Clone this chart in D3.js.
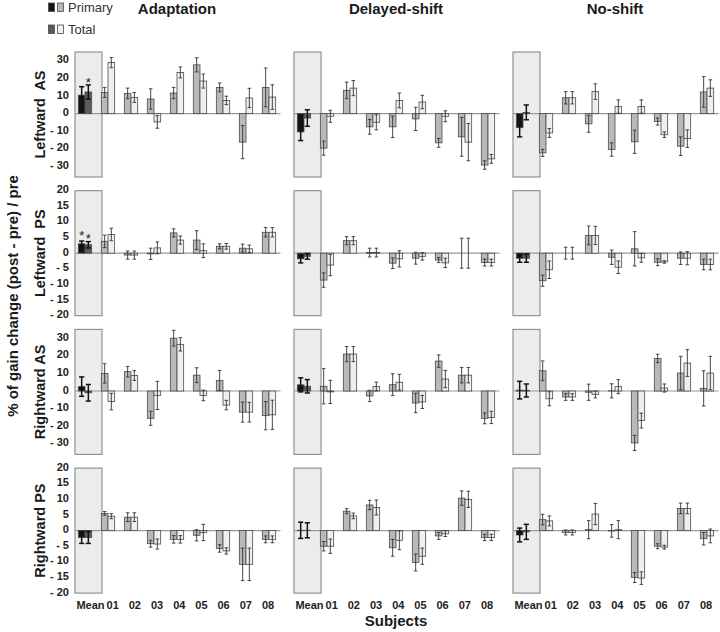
<!DOCTYPE html>
<html><head><meta charset="utf-8">
<script src="https://cdn.jsdelivr.net/npm/d3@7"></script>
<style>
html,body{margin:0;padding:0;background:#fff;}
svg{display:block;font-family:"Liberation Sans",Arial,Helvetica,sans-serif;}
</style></head><body>
<svg id="chart" width="720" height="632"></svg>
<script>
// ---------- DATA ----------
const categories = ["Mean","01","02","03","04","05","06","07","08"];
const conditions = ["Adaptation","Delayed-shift","No-shift"];
const rowLabels = ["Leftward  AS","Leftward  PS","Rightward AS","Rightward PS"];
const rowKinds = ["AS","PS","AS","PS"];
const asTicks = [30,20,10,0,-10,-20,-30];
const psTicks = [20,15,10,5,0,-5,-10,-15,-20];
const asDomain = [-36,35];
const psDomain = [-20,20];
const seriesNames = ["Primary","Total"];

// rows: Leftward AS, Leftward PS, Rightward AS, Rightward PS ; columns: Mean, 01..08
const adaptationPrimary = [
  [10.5, 12, 11.5, 8.3, 11.7, 27.7, 14.9, -16.2, 14.9],
  [3, 3.8, -0.6, -0.2, 6.5, 4.2, 2.2, 1.6, 6.7],
  [2.5, 10, 11, -15.5, 30, 9, 6, -12, -14],
  [-2.2, 5.5, 4.3, -4.2, -2.8, -1.5, -5.7, -10.8, -2.8]
];
const adaptationPrimaryErr = [
  [4.8, 2.8, 3, 5.8, 3.2, 4, 2.5, 9.4, 11],
  [0.9, 2, 1.3, 1.8, 1.3, 3, 0.8, 1.3, 1.5],
  [5.5, 5.5, 3, 4, 4.5, 4.2, 5.7, 5.7, 8],
  [1.9, 0.6, 1.4, 1.1, 1.2, 1.8, 1.2, 5.2, 1.1]
];
const adaptationTotal = [
  [12.3, 29, 9.2, -4.7, 23.4, 18.5, 7.5, 8.9, 9.4],
  [2.7, 6, -0.6, 1.7, 4.2, 0.8, 2.2, 1.4, 6.7],
  [-1, -6, 8.8, -2.5, 26.5, -2.5, -8, -12, -13.5],
  [-2.2, 4.6, 4.3, -4.3, -2.8, -0.6, -6.5, -10.8, -2.8]
];
const adaptationTotalErr = [
  [4, 2.9, 2.8, 3.6, 3.1, 4, 2.4, 5.5, 7],
  [1, 2, 1.3, 1.9, 1.3, 2.2, 0.9, 1.2, 1.5],
  [4.7, 4.7, 2.8, 8, 3.8, 3, 2.7, 5.6, 8.3],
  [1.9, 0.8, 1.4, 1.6, 1.2, 2.6, 1, 5.2, 1.1]
];

const delayedPrimary = [
  [-10.4, -19.6, 13.2, -7.5, -7.5, -3, -16.6, -13.2, -29.2],
  [-1.8, -8.6, 4, 0.2, -3.2, -1.6, -2.2, 0, -3],
  [3.5, 2.7, 21, -2.8, 3.6, -6.8, 17, 9, -15.5],
  [0.1, -5, 6.2, 8.2, -5.5, -10.2, -1.7, 10.4, -2.2]
];
const delayedPrimaryErr = [
  [4.9, 4, 4.7, 4.2, 6.1, 6.6, 2.5, 11, 2.4],
  [1.3, 2.3, 1.3, 1.4, 1.7, 1.9, 0.8, 4.8, 1.1],
  [4, 10, 4.3, 3.2, 6.2, 5.5, 3.5, 4.4, 3.1],
  [2.6, 1.5, 0.8, 1.5, 2.7, 2.7, 1.1, 2.3, 1]
];
const delayedTotal = [
  [-2.5, -1.5, 14.5, -4.9, 7.5, 6.6, -1.5, -16.2, -25.7],
  [-1, -3.8, 4, 0.2, -1.8, -1, -3.1, 0, -3],
  [2.7, -0.5, 21, 2.6, 5, -6.2, 6.8, 9, -15],
  [0.1, -5, 4.7, 7.4, -3.1, -8.2, -1, 10, -2.2]
];
const delayedTotalErr = [
  [4.7, 3.4, 4.3, 4.3, 4.2, 3.8, 3.1, 10.6, 2.5],
  [0.9, 3.4, 1.3, 1.4, 2.6, 1.2, 1.5, 4.8, 1.1],
  [3.8, 6.6, 4.3, 2.4, 4.5, 3.7, 4.9, 4.4, 3.5],
  [2.4, 2.3, 0.9, 2.4, 3, 2.6, 0.9, 2.6, 1]
];

const noShiftPrimary = [
  [-8, -22.3, 9, -5.8, -20.4, -16, -4.5, -18.5, 12.3],
  [-1.6, -8.8, 0, 5.7, -1.3, 1.4, -2.9, -1.6, -3.6],
  [0.5, 11.5, -3.4, -0.7, 0.1, -29.5, 18.5, 10.2, 1.5],
  [-1.4, 3.5, -0.6, 0.3, -0.1, -15, -5, 7.1, -2.6]
];
const noShiftPrimaryErr = [
  [5.2, 2, 3.5, 4.8, 3.8, 6.6, 2, 5.3, 8.7],
  [1.3, 1.8, 1.9, 3, 2.3, 5.5, 1.1, 2, 1.7],
  [5, 5.6, 1.9, 4.6, 4, 4.3, 2.4, 9.5, 10],
  [2.2, 1.7, 0.8, 2.9, 2, 1.6, 0.8, 1.7, 2]
];
const noShiftTotal = [
  [0.7, -11, 9, 12.5, 4, 4, -12, -14.2, 14.5],
  [-1.6, -5.3, 0, 5.7, -4.5, -1.5, -2.8, -1.6, -3.6],
  [0.3, -4.4, -3.4, -2, 2.5, -16.8, 1.7, 15.9, 10.2],
  [-0.4, 3.1, -0.6, 5.3, 0.3, -15.2, -5.3, 7.1, -1.7]
];
const noShiftTotalErr = [
  [4.2, 2.5, 3.5, 4.4, 3.8, 3.8, 1.6, 5, 4.7],
  [1.3, 2.8, 1.9, 2.9, 2, 1.4, 0.4, 2.1, 1.7],
  [3.7, 4, 1.9, 1.9, 4, 4.2, 2.3, 7.6, 9.5],
  [2.4, 1.6, 0.8, 3.4, 2.9, 2, 0.6, 1.7, 2.2]
];

const significance = [
  {condition: "Adaptation", row: 0, series: "Total"},
  {condition: "Adaptation", row: 1, series: "Primary"},
  {condition: "Adaptation", row: 1, series: "Total"}
];

// ---------- LAYOUT ----------
const svg = d3.select("#chart");
const primaryTables = [adaptationPrimary, delayedPrimary, noShiftPrimary];
const primaryErrTables = [adaptationPrimaryErr, delayedPrimaryErr, noShiftPrimaryErr];
const totalTables = [adaptationTotal, delayedTotal, noShiftTotal];
const totalErrTables = [adaptationTotalErr, delayedTotalErr, noShiftTotalErr];

const panelLeft = 73.5, panelStride = 219, panelWidth = 207;
const rowTop0 = 52, rowStride = 138.7, rowH = 125;
const FONT = '"Liberation Sans",Arial,Helvetica,sans-serif';

const colors = {
  meanPrimary: "#141414", meanTotal: "#5c5c5c",
  subjPrimary: "#b9b9b9", subjTotal: "#efefef",
  barStroke: "#4a4a4a", box: "#ececec", boxStroke: "#8a8a8a", zero: "#9a9a9a"
};

function fillFor(cat, s) {
  if (cat === "Mean") return s === 0 ? colors.meanPrimary : colors.meanTotal;
  return s === 0 ? colors.subjPrimary : colors.subjTotal;
}

conditions.forEach((cond, c) => {
  const x0 = panelLeft + c * panelStride;
  const x = d3.scaleBand().domain(categories).range([x0, x0 + panelWidth]);
  const bw = x.bandwidth();
  const barW = bw * 0.29;

  // title
  svg.append("text").attr("x", x0 + panelWidth / 2).attr("y", 14)
    .attr("text-anchor", "middle").attr("font-weight", "bold").attr("font-size", 15)
    .attr("fill", "#1a1a1a").text(cond);

  rowLabels.forEach((rl, r) => {
    const top = rowTop0 + r * rowStride;
    const dom = rowKinds[r] === "AS" ? asDomain : psDomain;
    const y = d3.scaleLinear().domain(dom).range([top + rowH, top]);
    const g = svg.append("g");

    const boxL = x("Mean") + bw * 0.065;
    const boxR = x("01") + bw * 0.24;
    g.append("rect").attr("x", boxL).attr("y", top).attr("width", boxR - boxL).attr("height", rowH)
      .attr("fill", colors.box).attr("stroke", colors.boxStroke).attr("stroke-width", 1.1);

    // zero line
    g.append("line").attr("x1", boxL).attr("x2", x0 + panelWidth)
      .attr("y1", y(0)).attr("y2", y(0)).attr("stroke", colors.zero).attr("stroke-width", 1.2);

    const vals = [primaryTables[c][r], totalTables[c][r]];
    const errs = [primaryErrTables[c][r], totalErrTables[c][r]];

    categories.forEach((cat, i) => {
      const cx = x(cat) + bw / 2;
      [0, 1].forEach(s => {
        const v = vals[s][i];
        const bx = s === 0 ? cx - barW : cx;
        g.append("rect").attr("x", bx).attr("width", barW)
          .attr("y", y(Math.max(0, v))).attr("height", Math.abs(y(v) - y(0)))
          .attr("fill", fillFor(cat, s)).attr("stroke", colors.barStroke).attr("stroke-width", 0.8);
      });
    });
    categories.forEach((cat, i) => {
      const cx = x(cat) + bw / 2;
      const isMean = cat === "Mean";
      [0, 1].forEach(s => {
        const v = vals[s][i], e = errs[s][i];
        const ex = (s === 0 ? cx - barW : cx) + barW / 2;
        const cap = isMean ? 2.6 : 1.8;
        const col = isMean ? "#111" : "#333";
        const sw = isMean ? 1.5 : 0.9;
        g.append("line").attr("x1", ex).attr("x2", ex).attr("y1", y(v - e)).attr("y2", y(v + e))
          .attr("stroke", col).attr("stroke-width", sw);
        [v - e, v + e].forEach(t => {
          g.append("line").attr("x1", ex - cap).attr("x2", ex + cap).attr("y1", y(t)).attr("y2", y(t))
            .attr("stroke", col).attr("stroke-width", sw);
        });
      });
    });

    // significance markers
    significance.filter(d => d.condition === cond && d.row === r).forEach(d => {
      const s = seriesNames.indexOf(d.series);
      const cx = x("Mean") + bw / 2;
      const ex = (s === 0 ? cx - barW : cx) + barW / 2;
      const v = vals[s][0], e = errs[s][0];
      g.append("text").attr("x", ex).attr("y", y(v + e) - 1 + (s === 1 && r === 1 ? 2 : 0) + (r === 0 ? 3 : 0))
        .attr("text-anchor", "middle").attr("font-size", 13).attr("fill", "#222").text("*");
    });

    // y axis on first column
    if (c === 0) {
      const ticks = rowKinds[r] === "AS" ? asTicks : psTicks;
      const ax = svg.append("g").attr("transform", `translate(${boxL},0)`)
        .call(d3.axisLeft(y).tickValues(ticks).tickSize(0).tickPadding(6)
          .tickFormat(d => d < 0 ? "- " + Math.abs(d) : String(d)));
      ax.select(".domain").remove();
      ax.selectAll("text").attr("font-family", FONT).attr("font-size", 11).attr("font-weight", "bold")
        .attr("fill", "#222").attr("y", -1.5);

      svg.append("text")
        .attr("transform", `translate(45,${top + rowH / 2}) rotate(-90)`)
        .attr("text-anchor", "middle").attr("font-weight", "bold").attr("font-size", 14.5)
        .attr("fill", "#1a1a1a").style("white-space", "pre").text(rl);
    }

    // x axis labels on last row
    if (r === rowLabels.length - 1) {
      const xl = d3.scalePoint().domain(categories).range([x0 + 16.5, x0 + 194]);
      const axb = svg.append("g").attr("transform", `translate(0,${top + rowH + 7})`)
        .call(d3.axisBottom(xl).tickSize(0).tickPadding(1));
      axb.select(".domain").remove();
      axb.selectAll("text").attr("font-family", FONT).attr("font-size", 11).attr("font-weight", "bold")
        .attr("fill", "#222");
    }
  });
});

// overall y label
svg.append("text").attr("transform", "translate(18,296) rotate(-90)")
  .attr("text-anchor", "middle").attr("font-weight", "bold").attr("font-size", 15)
  .attr("fill", "#1a1a1a").text("% of gain change (post - pre) / pre");

// x label
svg.append("text").attr("x", panelLeft + panelStride + panelWidth / 2).attr("y", 626)
  .attr("text-anchor", "middle").attr("font-weight", "bold").attr("font-size", 15)
  .attr("fill", "#1a1a1a").text("Subjects");

// legend
const legendRows = [
  {name: seriesNames[0], fills: [colors.meanPrimary, colors.subjPrimary], y: 12},
  {name: seriesNames[1], fills: [colors.meanTotal, colors.subjTotal], y: 34}
];
legendRows.forEach(lr => {
  lr.fills.forEach((f, k) => {
    svg.append("rect").attr("x", 48.5 + k * 9).attr("y", lr.y - 9).attr("width", 6).attr("height", 8.5)
      .attr("fill", f).attr("stroke", colors.barStroke).attr("stroke-width", 0.8);
  });
  svg.append("text").attr("x", 68).attr("y", lr.y).attr("font-size", 13).attr("fill", "#333").text(lr.name);
});
</script>
</body></html>
